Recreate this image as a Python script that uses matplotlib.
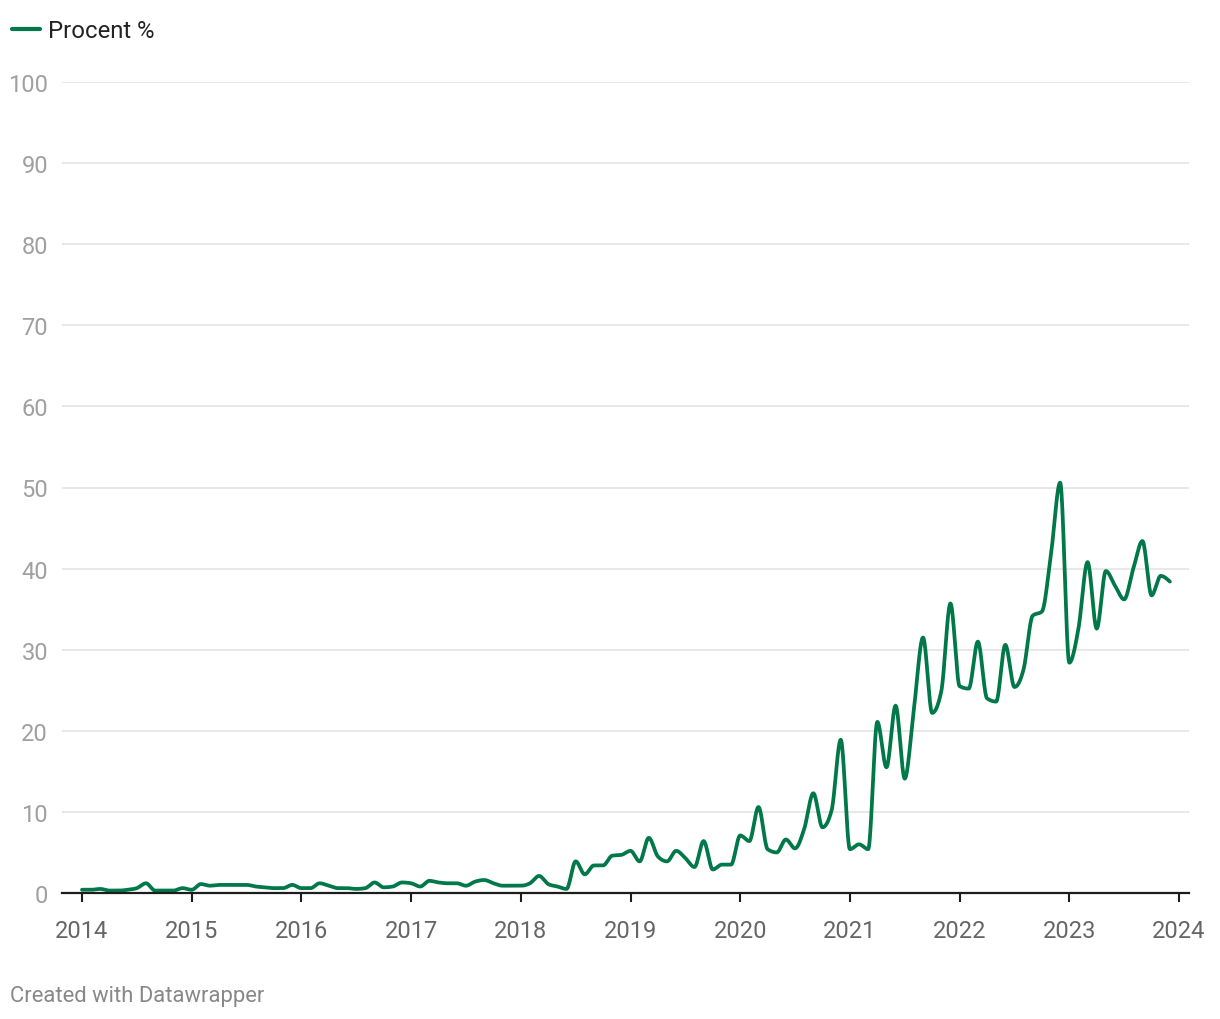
import numpy as np
import matplotlib
matplotlib.use("Agg")
import matplotlib.pyplot as plt

plt.rcParams['font.family'] = ['Roboto', 'DejaVu Sans']

# monthly values, Jan 2014 .. Dec 2023
start_year = 2014
procent = [
    0.4, 0.4, 0.5, 0.3, 0.3, 0.4, 0.6, 1.2, 0.3, 0.3, 0.3, 0.6,      # 2014
    0.4, 1.1, 0.9, 1.0, 1.0, 1.0, 1.0, 0.8, 0.7, 0.6, 0.6, 1.0,      # 2015
    0.6, 0.6, 1.2, 0.9, 0.6, 0.6, 0.5, 0.6, 1.3, 0.7, 0.8, 1.3,      # 2016
    1.2, 0.8, 1.5, 1.3, 1.2, 1.2, 0.9, 1.4, 1.6, 1.2, 0.9, 0.9,      # 2017
    0.9, 1.2, 2.1, 1.1, 0.8, 0.5, 3.9, 2.3, 3.4, 3.4, 4.6, 4.7,      # 2018
    5.2, 3.9, 6.8, 4.5, 3.9, 5.2, 4.3, 3.2, 6.4, 2.9, 3.5, 3.5,      # 2019
    7.1, 6.4, 10.6, 5.4, 5.0, 6.6, 5.5, 7.9, 12.3, 8.1, 10.2, 18.9,  # 2020
    5.4, 6.0, 5.4, 21.1, 15.5, 23.1, 14.1, 22.7, 31.5, 22.2, 24.9, 35.7,  # 2021
    25.5, 25.2, 31.0, 24.0, 23.6, 30.6, 25.4, 27.6, 34.2, 34.7, 41.8, 50.6,  # 2022
    28.4, 32.6, 40.8, 32.6, 39.7, 37.9, 36.2, 40.0, 43.4, 36.7, 39.1, 38.4,  # 2023
]
year_ticks = list(range(2014, 2025))
y_ticks = list(range(0, 101, 10))

green = "#00784a"


def monotone_x(x, y, n=20):
    # d3 curveMonotoneX style smoothing (Fritsch-Carlson tangents)
    x = np.asarray(x, float)
    y = np.asarray(y, float)
    h = np.diff(x)
    s = np.diff(y) / h
    t = np.zeros_like(y)
    for i in range(1, len(y) - 1):
        s0, s1 = s[i - 1], s[i]
        p = (s0 * h[i] + s1 * h[i - 1]) / (h[i - 1] + h[i])
        t[i] = (np.sign(s0) + np.sign(s1)) * min(abs(s0), abs(s1), 0.5 * abs(p))
    t[0] = (3 * s[0] - t[1]) / 2 if len(y) > 2 else s[0]
    t[-1] = (3 * s[-1] - t[-2]) / 2 if len(y) > 2 else s[-1]
    xs, ys = [], []
    for i in range(len(x) - 1):
        u = np.linspace(0, 1, n, endpoint=False)
        h00 = 2 * u**3 - 3 * u**2 + 1
        h10 = u**3 - 2 * u**2 + u
        h01 = -2 * u**3 + 3 * u**2
        h11 = u**3 - u**2
        xs.append(x[i] + u * h[i])
        ys.append(h00 * y[i] + h10 * h[i] * t[i] + h01 * y[i + 1] + h11 * h[i] * t[i + 1])
    xs.append([x[-1]])
    ys.append([y[-1]])
    return np.concatenate(xs), np.concatenate(ys)


x = start_year + np.arange(len(procent)) / 12
xs, ys = monotone_x(x, procent)

fig = plt.figure(figsize=(12.2, 10.2), dpi=100)
ax = fig.add_axes([62 / 1220, 1 - 894 / 1020, 1127 / 1220, 811 / 1020])

ax.plot(xs, ys, color=green, lw=2.7, solid_capstyle="round", solid_joinstyle="round", zorder=3)

ax.set_xlim(2014 - 20 / 109.7, 2024 + 10 / 109.7)
ax.set_ylim(0, 100)
ax.set_yticks(y_ticks)
ax.set_xticks(year_ticks)
ax.set_xticklabels([str(v) for v in year_ticks])

ax.grid(axis="y", color="#e1e1e1", lw=1.1)
ax.set_axisbelow(True)
for side in ["top", "right", "left"]:
    ax.spines[side].set_visible(False)
ax.spines["bottom"].set_color("#1d1d1d")
ax.spines["bottom"].set_linewidth(1.6)
ax.spines["bottom"].set_zorder(4)

ax.tick_params(axis="y", length=0, pad=10, labelsize=17, labelcolor="#a0a0a0")
ax.tick_params(axis="x", length=6.5, width=1.5, color="#1d1d1d", pad=12,
               labelsize=17, labelcolor="#666666")

# legend
fig.add_artist(plt.Line2D([12 / 1220, 40 / 1220], [1 - 30 / 1020] * 2,
                          color=green, lw=3, solid_capstyle="round"))
fig.text(48 / 1220, 1 - 31 / 1020, "Procent %", fontsize=17.2, color="#222222",
         va="center", ha="left")

fig.text(10 / 1220, 1 - 997 / 1020, "Created with Datawrapper", fontsize=15.8,
         color="#888888", va="center", ha="left")

fig.savefig("out.png", dpi=100, facecolor="white")
